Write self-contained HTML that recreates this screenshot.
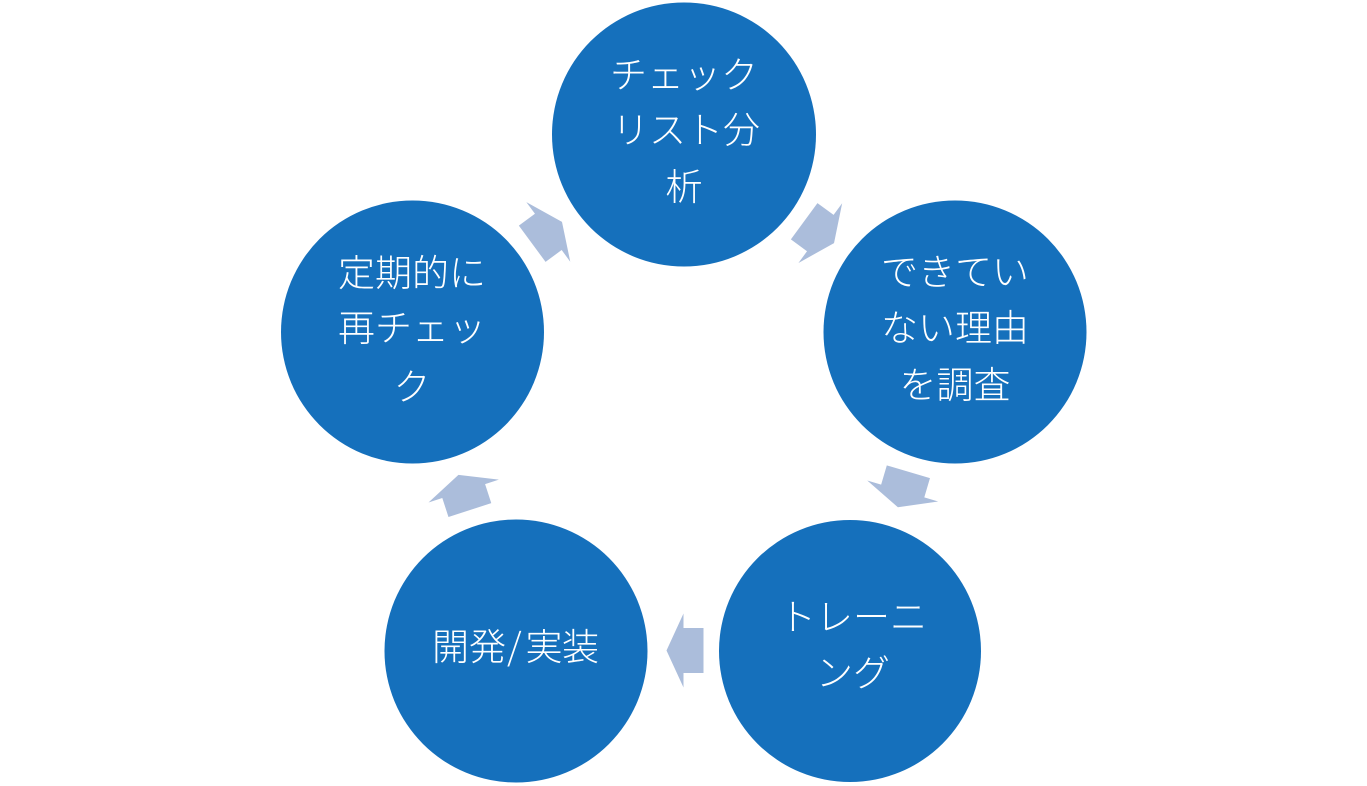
<!DOCTYPE html>
<html>
<head>
<meta charset="utf-8">
<style>
html,body{margin:0;padding:0;background:#fff;}
svg{display:block;}
text{font-family:"Liberation Sans","Noto Sans CJK JP",sans-serif;font-size:37px;font-weight:300;fill:#fff;}
text.cjk{font-family:"Noto Sans CJK JP","Liberation Sans",sans-serif;}
</style>
</head>
<body>
<svg width="1367" height="786" viewBox="0 0 1367 786" xmlns="http://www.w3.org/2000/svg">
<defs>
<polygon id="arr" points="-19,-22.5 1,-22.5 1,-37 18,0 1,37 1,22.5 -19,22.5" fill="#abbddb"/>
</defs>
<rect width="1367" height="786" fill="#fff"/>
<g fill="#1570bc">
<circle cx="684" cy="134.5" r="132"/>
<circle cx="955" cy="332" r="131.5"/>
<circle cx="850" cy="651" r="131"/>
<circle cx="516" cy="651" r="131.5"/>
<circle cx="412.5" cy="332" r="131.5"/>
</g>
<use href="#arr" transform="translate(819.5,232.5) rotate(36.2)"/>
<use href="#arr" transform="translate(903,490) rotate(106.5)"/>
<use href="#arr" transform="translate(684.5,650.5) rotate(180)"/>
<use href="#arr" transform="translate(464,492) rotate(252)"/>
<use href="#arr" transform="translate(547.5,232.5) rotate(-36.4)"/>

<g text-anchor="middle">
<text x="684" y="88">チェック</text>
<text x="686" y="143">リスト分</text>
<text x="684" y="200">析</text>

<text x="955" y="285">できてい</text>
<text x="955" y="341">ない理由</text>
<text x="955" y="398">を調査</text>

<text x="412" y="286">定期的に</text>
<text x="412" y="341">再チェッ</text>
<text x="412" y="400">ク</text>

<text x="853" y="630">トレーニ</text>
<text x="853" y="686">ング</text>
</g>
<text class="cjk" x="432 469 507 525.5 562" y="660">開発/実装</text>
</svg>
</body>
</html>
